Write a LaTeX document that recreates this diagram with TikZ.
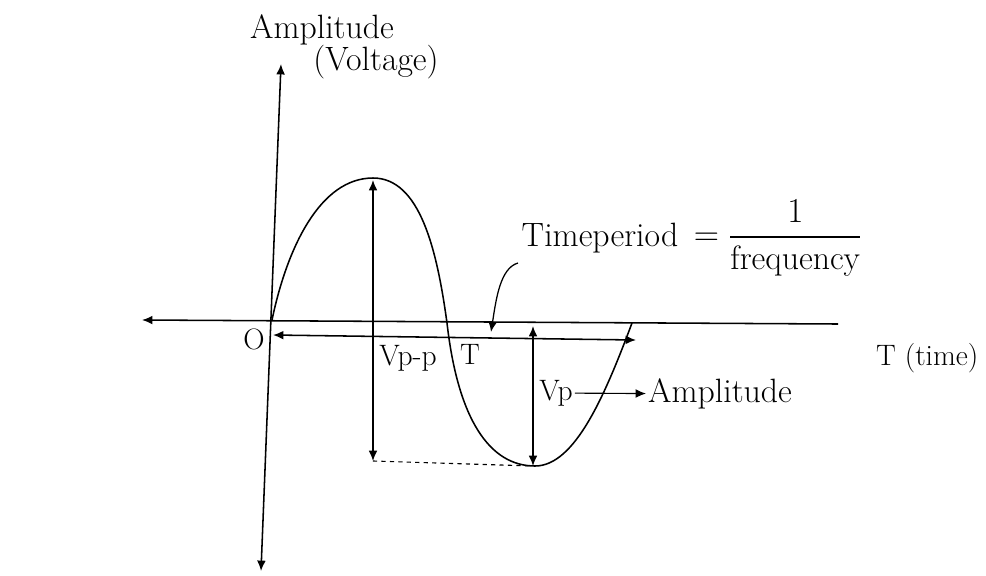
\documentclass[tikz,border=0pt]{standalone}
\usepackage{amsmath}
\usetikzlibrary{arrows.meta,positioning}

\begin{document}
\begin{tikzpicture}[x=0.025cm, y=-0.025cm, line width=1.1pt,
    tipend/.style={-{Latex[length=2.6mm,width=2.2mm]}},
    tipboth/.style={{Latex[length=2.6mm,width=2.2mm]}-{Latex[length=2.6mm,width=2.2mm]}},
    lbl/.style={font=\fontsize{21}{25}\selectfont, inner sep=1pt},
    biglbl/.style={font=\fontsize{24}{28}\selectfont, inner sep=1pt}]
    \useasboundingbox (0,0) rectangle (986,575);

    % Axes
    \coordinate (ytop) at (281,64);
    \coordinate (ybot) at (261,571);
    \coordinate (xleft) at (142,320);
    \coordinate (xright) at (838,324);
    \draw[tipboth] (ybot) -- (ytop);
    \draw[tipend] (xright) -- (xleft);
    \node[biglbl] (ylab) at (322,30) {Amplitude};
    \node[biglbl] (ylab2) at (376,62) {(Voltage)};
    \node[lbl] (orig) at (254,339) {O};
    \node[lbl, right] (xlab) at (874,358) {T (time)};

    % Wave
    \coordinate (start) at (272,320);
    \coordinate (peak) at (373,178);
    \coordinate (cross) at (447,323);
    \coordinate (trough) at (535,466);
    \coordinate (cross2) at (632,323);
    \draw (start) .. controls (287,248) and (320,178) .. (peak)
        .. controls (420,178) and (437,250) .. (cross)
        .. controls (458,420) and (490,466) .. (trough)
        .. controls (575,466) and (605,395) .. (cross2);

    % Peak to peak
    \coordinate (ptop) at (373,180);
    \coordinate (low) at (373,461);
    \coordinate (vbot) at (533,466);
    \coordinate (vtop) at (533,326);
    \draw[tipboth] (low) -- (ptop);
    \draw[dashed, line width=0.8pt] (low) -- (vbot);
    \node[lbl] (vpp) at (408,358) {Vp-p};

    % Peak amplitude
    \draw[tipboth] (vbot) -- (vtop);
    \node[lbl] (vp) at (556,393) {Vp};
    \node[biglbl, right] (amp) at (646,394) {Amplitude};
    \draw[tipend, line width=0.8pt] (vp) -- (amp);

    % Time period
    \coordinate (tstart) at (273,335);
    \coordinate (tend) at (636,340);
    \draw[tipboth] (tstart) -- (tend);
    \node[lbl] (tlab) at (470,354) {T};
    \node[biglbl] (tp) at (600,238) {Timeperiod};
    \node[biglbl, right=8pt of tp] (freq) {$=\dfrac{1}{\text{frequency}}$};
    \coordinate (lead) at (518,263);
    \coordinate (leadend) at (491,332);
    \draw[tipend, line width=0.9pt] (lead) .. controls (500,268) and (496,300) .. (leadend);
\end{tikzpicture}
\end{document}
